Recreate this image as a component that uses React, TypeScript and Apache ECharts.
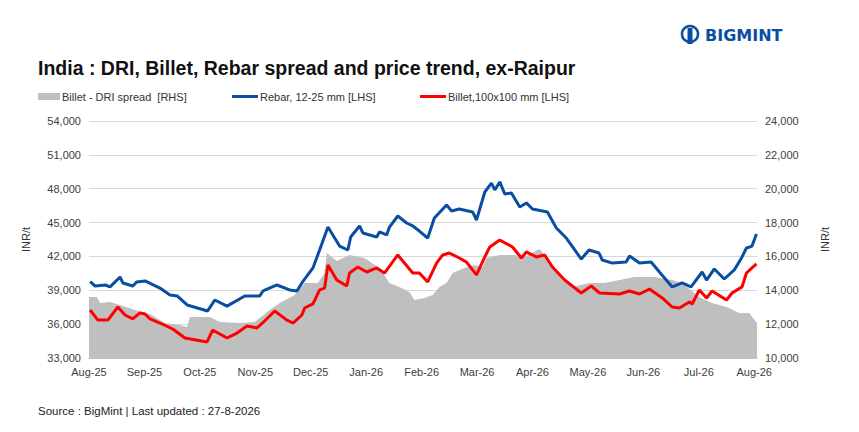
import React, { useEffect, useRef } from "react";
import * as echarts from "echarts";

const monthLabels = ["Aug-25","Sep-25","Oct-25","Nov-25","Dec-25","Jan-26","Feb-26","Mar-26","Apr-26","May-26","Jun-26","Jul-26","Aug-26"];

const rebarT = [0.02,0.11,0.29,0.38,0.56,0.61,0.79,0.86,1.01,1.28,1.46,1.59,1.77,2.14,2.27,2.49,2.81,3.08,3.14,3.39,3.62,3.75,3.84,4.04,4.16,4.31,4.52,4.67,4.72,4.88,4.94,5.19,5.24,5.37,5.42,5.57,5.73,5.84,5.96,6.11,6.23,6.45,6.54,6.68,6.92,6.99,7.14,7.26,7.32,7.41,7.5,7.62,7.77,7.89,8.0,8.27,8.43,8.61,8.88,9.02,9.2,9.26,9.44,9.69,9.75,9.93,10.14,10.29,10.52,10.7,10.86,11.06,11.14,11.28,11.46,11.64,11.77,11.86,11.96,12.04];
const rebarV = [39760,39380,39470,39300,40180,39650,39380,39740,39830,39200,38580,38500,37700,37170,38140,37600,38500,38500,38940,39470,39030,38940,39650,40980,42570,44600,42920,42570,43720,44700,44080,43720,44170,43900,44600,45580,44960,44700,44250,43630,45400,46560,46030,46200,45940,45230,47710,48500,47890,48600,47530,47620,46380,46740,46200,45940,44520,43630,41770,42570,42300,41680,41410,41500,42040,41410,41500,40620,39300,39650,39300,40620,39910,40890,40000,40800,41860,42750,42920,43990];

const billetT = [0.02,0.16,0.34,0.52,0.65,0.79,0.92,1.01,1.1,1.28,1.51,1.73,2.13,2.23,2.49,2.67,2.85,3.03,3.15,3.35,3.57,3.68,3.84,3.89,4.04,4.16,4.25,4.31,4.47,4.65,4.7,4.85,5.01,5.19,5.33,5.57,5.66,5.84,5.96,6.11,6.27,6.38,6.5,6.68,6.81,6.99,7.14,7.23,7.41,7.64,7.8,7.89,8.07,8.22,8.36,8.58,8.88,9.06,9.21,9.57,9.75,9.93,10.11,10.34,10.52,10.65,10.83,10.88,11.01,11.14,11.24,11.5,11.6,11.78,11.86,11.96,12.04];
const billetV = [37250,36360,36360,37520,36810,36460,36990,36900,36460,36100,35570,34770,34420,35480,34770,35210,35840,35660,36190,37170,36360,36100,36810,37430,37790,39030,39200,41240,39910,39380,40530,41060,40620,40980,40530,42130,41590,40530,40530,39740,41410,42130,42300,41860,41500,40360,41950,42840,43450,42840,41860,42400,41950,42130,41060,39910,38760,39380,38760,38670,38940,38670,39110,38320,37520,37430,37960,37790,39030,38320,38940,38140,38760,39300,40530,40980,41330];

const spreadT = [0.0,0.14,0.2,0.38,0.56,0.83,1.1,1.37,1.64,1.77,1.82,2.18,2.36,2.72,2.99,3.26,3.44,3.71,3.89,4.13,4.25,4.29,4.47,4.7,4.97,5.24,5.42,5.6,5.78,5.87,6.05,6.2,6.32,6.45,6.56,6.77,6.95,7.1,7.17,7.41,7.64,7.89,8.13,8.31,8.54,8.72,9.03,9.3,9.57,9.84,10.2,10.52,10.7,11.01,11.24,11.5,11.73,11.91,12.05];
const spreadV = [13600,13600,13250,13310,13130,12840,12600,12070,11950,11830,12420,12420,12130,12070,12130,12840,13250,13720,14430,14430,15020,16200,15730,16080,15900,15310,14430,14190,13900,13430,13540,13720,14190,14430,15020,15310,15490,15380,15900,16080,16080,16020,16440,15670,14610,14190,14430,14430,14610,14780,14780,14610,14430,13600,13250,13010,12660,12660,12070];

const zip = (t: number[], v: number[]) => t.map((x, i) => [x, v[i]]);
const FONT = "Liberation Sans, Arial, sans-serif";
const BLUE = "#0a4ea3";

export default function App() {
  const ref = useRef<HTMLDivElement>(null);
  useEffect(() => {
    const chart = echarts.init(ref.current!, null, { renderer: "svg" });
    const axisLabel = { color: "#404040", fontSize: 11, fontFamily: FONT };
    const txt = (x: number, y: number, text: string, fontSize: number, extra: any = {}) => ({
      type: "text", x, y, style: { text, fontSize, fontFamily: FONT, fill: "#333", textVerticalAlign: "middle", ...extra },
    });
    chart.setOption({
      animation: false,
      textStyle: { fontFamily: FONT },
      grid: { left: 81, right: 94, top: 113, bottom: 66 },
      graphic: [
        txt(30, 60, "India : DRI, Billet, Rebar spread and price trend, ex-Raipur", 19.5, { fontWeight: "bold", fill: "#111" }),
        { type: "rect", shape: { x: 30, y: 85, width: 22, height: 7 }, style: { fill: "#bfbfbf" } },
        txt(54, 89, "Billet - DRI spread  [RHS]", 11),
        { type: "rect", shape: { x: 224, y: 87, width: 26, height: 3 }, style: { fill: BLUE } },
        txt(252, 89, "Rebar, 12-25 mm [LHS]", 11),
        { type: "rect", shape: { x: 412, y: 87, width: 26, height: 3 }, style: { fill: "#ff0000" } },
        txt(440, 89, "Billet,100x100 mm [LHS]", 11),
        { type: "circle", shape: { cx: 682, cy: 26, r: 8 }, style: { fill: "none", stroke: BLUE, lineWidth: 2.5 } },
        { type: "rect", shape: { x: 679.5, y: 20, width: 5, height: 16 }, style: { fill: BLUE } },
        { type: "text", x: 697, y: 27, style: { text: "BIGMINT", fontSize: 16, fontWeight: "bold", fontFamily: "DejaVu Sans, sans-serif", fill: BLUE, textVerticalAlign: "middle" } },
        txt(30, 403, "Source : BigMint | Last updated : 27-8-2026", 11.5, { fill: "#222" }),
      ],
      xAxis: {
        type: "value", min: 0, max: 12.05, interval: 1,
        axisLine: { show: true, lineStyle: { color: "#bfbfbf" } },
        axisTick: { show: false }, splitLine: { show: false },
        axisLabel: { ...axisLabel, showMaxLabel: false, formatter: (v: number) => monthLabels[Math.round(v)] ?? "" },
      },
      yAxis: [
        {
          type: "value", min: 33000, max: 54000, interval: 3000,
          name: "INR/t", nameLocation: "middle", nameGap: 58, nameRotate: 90,
          nameTextStyle: { fontSize: 11, color: "#333", fontFamily: FONT },
          axisLabel: { ...axisLabel, formatter: (v: number) => v.toLocaleString("en-US") },
          splitLine: { lineStyle: { color: "#d9d9d9" } },
          axisLine: { show: false }, axisTick: { show: false },
        },
        {
          type: "value", min: 10000, max: 24000, interval: 2000,
          name: "INR/t", nameLocation: "middle", nameGap: 62, nameRotate: 90,
          nameTextStyle: { fontSize: 11, color: "#333", fontFamily: FONT },
          axisLabel: { ...axisLabel, formatter: (v: number) => v.toLocaleString("en-US") },
          splitLine: { show: false }, axisLine: { show: false }, axisTick: { show: false },
        },
      ],
      series: [
        { name: "Billet - DRI spread  [RHS]", type: "line", yAxisIndex: 1, data: zip(spreadT, spreadV), showSymbol: false, lineStyle: { width: 0 }, areaStyle: { color: "#bfbfbf", opacity: 1, origin: "start" }, itemStyle: { color: "#bfbfbf" } },
        { name: "Rebar, 12-25 mm [LHS]", type: "line", data: zip(rebarT, rebarV), showSymbol: false, lineStyle: { width: 3, color: BLUE }, itemStyle: { color: BLUE } },
        { name: "Billet,100x100 mm [LHS]", type: "line", data: zip(billetT, billetV), showSymbol: false, lineStyle: { width: 3, color: "#ff0000" }, itemStyle: { color: "#ff0000" } },
      ],
    });
    return () => chart.dispose();
  }, []);
  return <div ref={ref} style={{ width: 843, height: 416 }} />;
}
